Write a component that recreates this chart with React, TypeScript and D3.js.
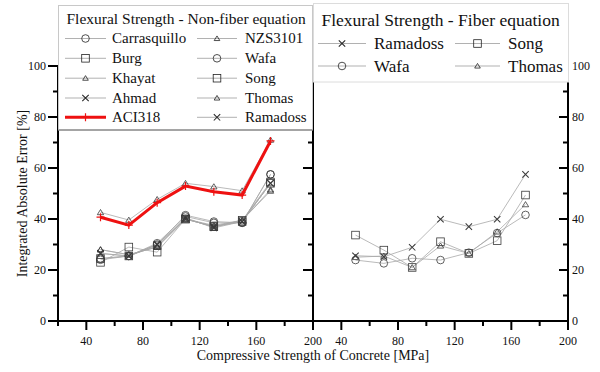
import React from "react";
import * as d3 from "d3";

const strengths = [50, 70, 90, 110, 130, 150, 170];

// Non-fiber equations (left panel)
const carrasquillo = [24, 25.5, 30, 41.5, 39, 38.5, 57.5];
const burg = [23, 29, 27, 40, 37, 39, 54];
const khayat = [28, 26, 29, 40, 37.5, 39.5, 51];
const ahmad = [26.5, 25.5, 30, 40.5, 36.5, 39, 54];
const aci318 = [40.7, 37.6, 46.4, 52.9, 50.7, 49.4, 70.6];
const nzs3101 = [42.6, 39.6, 47.7, 54, 52.7, 51.1, 71];
const wafaNF = [24.5, 25.5, 30.5, 41, 38.5, 38.5, 57.5];
const songNF = [24.5, 25.5, 29.5, 40, 37, 39.5, 54.5];
const thomasNF = [28, 26, 29, 40, 37, 39.5, 51.5];
const ramadossNF = [26.5, 25.5, 30, 40, 37, 39, 54];

// Fiber equations (right panel)
const ramadossF = [25.6, 25.2, 28.9, 39.9, 37, 39.9, 57.5];
const songF = [33.7, 27.8, 21, 31.1, 26.5, 31.5, 49.4];
const wafaF = [23.9, 22.6, 24.6, 23.9, 26.8, 34.5, 41.6];
const thomasF = [25, 25.5, 21, 29.5, 26.5, 35, 45.7];

const xTicksMajor = [40, 80, 120, 160, 200];
const xTicksMinor = [20, 60, 100, 140, 180];
const yTicksMajor = [0, 20, 40, 60, 80, 100];
const yTicksMinor = [10, 30, 50, 70, 90];

const leftTitle = "Flexural Strength - Non-fiber equation";
const rightTitle = "Flexural Strength - Fiber equation";
const xTitle = "Compressive Strength of Concrete [MPa]";
const yTitle = "Integrated Absolute Error [%]";

type Sym = "circle" | "square" | "triangle" | "x" | "plus";
interface S { name: string; values: number[]; sym: Sym; red?: boolean }

const leftSeries: S[] = [
  { name: "Carrasquillo", values: carrasquillo, sym: "circle" },
  { name: "Burg", values: burg, sym: "square" },
  { name: "Khayat", values: khayat, sym: "triangle" },
  { name: "Ahmad", values: ahmad, sym: "x" },
  { name: "NZS3101", values: nzs3101, sym: "triangle" },
  { name: "Wafa", values: wafaNF, sym: "circle" },
  { name: "Song", values: songNF, sym: "square" },
  { name: "Thomas", values: thomasNF, sym: "triangle" },
  { name: "Ramadoss", values: ramadossNF, sym: "x" },
  { name: "ACI318", values: aci318, sym: "plus", red: true },
];
const leftLegendOrder = [
  ["Carrasquillo", "Burg", "Khayat", "Ahmad", "ACI318"],
  ["NZS3101", "Wafa", "Song", "Thomas", "Ramadoss"],
];
const rightSeries: S[] = [
  { name: "Ramadoss", values: ramadossF, sym: "x" },
  { name: "Song", values: songF, sym: "square" },
  { name: "Wafa", values: wafaF, sym: "circle" },
  { name: "Thomas", values: thomasF, sym: "triangle" },
];
const rightLegendOrder = [
  ["Ramadoss", "Wafa"],
  ["Song", "Thomas"],
];

const FONT = "'Liberation Serif', 'Times New Roman', serif";
const LINE_GRAY = "#a8a8a8";
const MARK = "#3a3a3a";
const RED = "#ee1111";

const yScale = d3.scaleLinear().domain([0, 100]).range([321, 66]);
const xLeft = d3.scaleLinear().domain([20, 200]).range([58, 313]);
const xRight = d3.scaleLinear().domain([20, 200]).range([313, 568]);

function Marker({ sym, x, y, size = 1, color = MARK, sw = 0.8 }: { sym: Sym; x: number; y: number; size?: number; color?: string; sw?: number }) {
  const s = size;
  if (sym === "circle") return <circle cx={x} cy={y} r={3.8 * s} fill="white" fillOpacity={0} stroke={color} strokeWidth={sw} />;
  if (sym === "square") return <rect x={x - 3.8 * s} y={y - 3.8 * s} width={7.6 * s} height={7.6 * s} fill="none" stroke={color} strokeWidth={sw} />;
  if (sym === "triangle") {
    const h = 3.2 * s;
    return <path d={`M${x},${y - h} L${x + h * 1.1},${y + h * 0.8} L${x - h * 1.1},${y + h * 0.8} Z`} fill="none" stroke={color} strokeWidth={sw} />;
  }
  if (sym === "x") {
    const h = 3.2 * s;
    return <path d={`M${x - h},${y - h} L${x + h},${y + h} M${x - h},${y + h} L${x + h},${y - h}`} stroke={color} strokeWidth={sw * 1.3} />;
  }
  const h = 4 * s;
  return <path d={`M${x - h},${y} L${x + h},${y} M${x},${y - h} L${x},${y + h}`} stroke={color} strokeWidth={1.2} />;
}

function SeriesPlot({ series, xs }: { series: S[]; xs: d3.ScaleLinear<number, number> }) {
  const line = d3.line<number>().x((_, i) => xs(strengths[i])).y((d) => yScale(d));
  return (
    <g>
      {series.map((s) => (
        <path key={"l" + s.name} d={line(s.values) || ""} fill="none" stroke={s.red ? RED : LINE_GRAY} strokeWidth={s.red ? 3 : 0.8} />
      ))}
      {series.map((s) => (
        <g key={"m" + s.name}>
          {s.values.map((v, i) => (
            <Marker key={i} sym={s.sym} x={xs(strengths[i])} y={yScale(v)} color={s.red ? RED : MARK} size={s.sym === "triangle" ? 0.9 : 1} />
          ))}
        </g>
      ))}
    </g>
  );
}

function Legend({ x, y, w, h, title, titleSize, itemSize, order, series, cols, rows, border }: any) {
  const find = (n: string) => series.find((s: S) => s.name === n) as S;
  return (
    <g>
      <rect x={x} y={y} width={w} height={h} fill="white" stroke={border} strokeWidth={1} />
      <text x={cols[0].text - (cols[0].text - x) + 8} y={rows.title} fontSize={titleSize} fontFamily={FONT} fill="#111">{title}</text>
      {order.map((col: string[], ci: number) =>
        col.map((n, ri) => {
          const s = find(n);
          const c = cols[ci];
          const cy = rows.items[ri];
          return (
            <g key={n + ci}>
              <line x1={c.l1} x2={c.l2} y1={cy} y2={cy} stroke={s.red ? RED : LINE_GRAY} strokeWidth={s.red ? 3 : 0.9} />
              <Marker sym={s.sym} x={(c.l1 + c.l2) / 2} y={cy} color={s.red ? RED : "#222"} size={s.sym === "triangle" ? 0.8 : 1} />
              <text x={c.text} y={cy + itemSize * 0.33} fontSize={itemSize} fontFamily={FONT} fill="#111">{n}</text>
            </g>
          );
        })
      )}
    </g>
  );
}

export default function App() {
  const y0 = yScale(0);
  const yTop = yScale(100);
  return (
    <svg width={600} height={372} style={{ position: "absolute", left: 0, top: 0, background: "white" }}>
      <rect x={0} y={0} width={600} height={372} fill="white" />
      <SeriesPlot series={leftSeries.filter((s) => !s.red)} xs={xLeft} />
      <SeriesPlot series={leftSeries.filter((s) => s.red)} xs={xLeft} />
      <SeriesPlot series={rightSeries} xs={xRight} />

      {/* axes lines */}
      <g stroke="#000" strokeWidth={2} fill="none">
        <line x1={xLeft(20)} x2={xLeft(20)} y1={yTop} y2={y0 + 1} />
        <line x1={xRight(20)} x2={xRight(20)} y1={yTop} y2={y0 + 1} />
        <line x1={xRight(200)} x2={xRight(200)} y1={yTop} y2={y0 + 1} />
        <line x1={xLeft(20) - 1} x2={xRight(200) + 1} y1={y0} y2={y0} />
      </g>
      {/* y ticks */}
      <g stroke="#000" strokeWidth={2}>
        {yTicksMajor.map((t) => (
          <g key={"ym" + t}>
            <line x1={xLeft(20) - 10} x2={xLeft(20)} y1={yScale(t)} y2={yScale(t)} />
            <line x1={xLeft(200) - 10} x2={xLeft(200)} y1={yScale(t)} y2={yScale(t)} />
            <line x1={xRight(200) - 9} x2={xRight(200)} y1={yScale(t)} y2={yScale(t)} />
          </g>
        ))}
        {yTicksMinor.map((t) => (
          <g key={"yn" + t}>
            <line x1={xLeft(20) - 5} x2={xLeft(20)} y1={yScale(t)} y2={yScale(t)} />
            <line x1={xLeft(200) - 5} x2={xLeft(200)} y1={yScale(t)} y2={yScale(t)} />
            <line x1={xRight(200) - 5} x2={xRight(200)} y1={yScale(t)} y2={yScale(t)} />
          </g>
        ))}
        {[xLeft, xRight].map((xs, k) => (
          <g key={"xt" + k}>
            {xTicksMajor.map((t) => (
              <line key={"M" + t} x1={xs(t)} x2={xs(t)} y1={y0} y2={y0 + 9} />
            ))}
            {xTicksMinor.map((t) => (
              <line key={"m" + t} x1={xs(t)} x2={xs(t)} y1={y0} y2={y0 + 5} />
            ))}
          </g>
        ))}
      </g>
      {/* tick labels */}
      <g fontFamily={FONT} fontSize={12} fill="#111">
        {yTicksMajor.map((t) => (
          <text key={"yl" + t} x={xLeft(20) - 12} y={yScale(t)} dy="0.35em" textAnchor="end">{t}</text>
        ))}
        {yTicksMajor.map((t) => (
          <text key={"yr" + t} x={xRight(200) + 4} y={yScale(t)} dy="0.35em" textAnchor="start">{t}</text>
        ))}
        {xTicksMajor.map((t) => (
          <text key={"xl" + t} x={xLeft(t)} y={345} textAnchor="middle">{t}</text>
        ))}
        {xTicksMajor.map((t) => (
          <text key={"xr" + t} x={xRight(t)} y={345} textAnchor="middle">{t}</text>
        ))}
      </g>
      <text x={313} y={360} textAnchor="middle" fontFamily={FONT} fontSize={14} fill="#111">{xTitle}</text>
      <text transform={`translate(27,${(y0 + yTop) / 2}) rotate(-90)`} textAnchor="middle" fontFamily={FONT} fontSize={14} fill="#111">{yTitle}</text>

      <Legend
        x={58.5} y={5.5} w={254} h={124.5}
        title={leftTitle} titleSize={15.5} itemSize={15}
        order={leftLegendOrder} series={leftSeries}
        cols={[{ l1: 65, l2: 106, text: 112 }, { l1: 197, l2: 237, text: 245 }]}
        rows={{ title: 24, items: [38.5, 58.3, 78.2, 98, 117.3] }}
        border="#c8c8c8"
      />
      <line x1={58.5} x2={312.5} y1={130} y2={130} stroke="#666" strokeWidth={1} />
      <Legend
        x={313.5} y={3.5} w={255} h={78.5}
        title={rightTitle} titleSize={17.5} itemSize={17}
        order={rightLegendOrder} series={rightSeries}
        cols={[{ l1: 318, l2: 366, text: 374 }, { l1: 455, l2: 500, text: 508 }]}
        rows={{ title: 26, items: [43.5, 66] }}
        border="#dcdcdc"
      />
    </svg>
  );
}
